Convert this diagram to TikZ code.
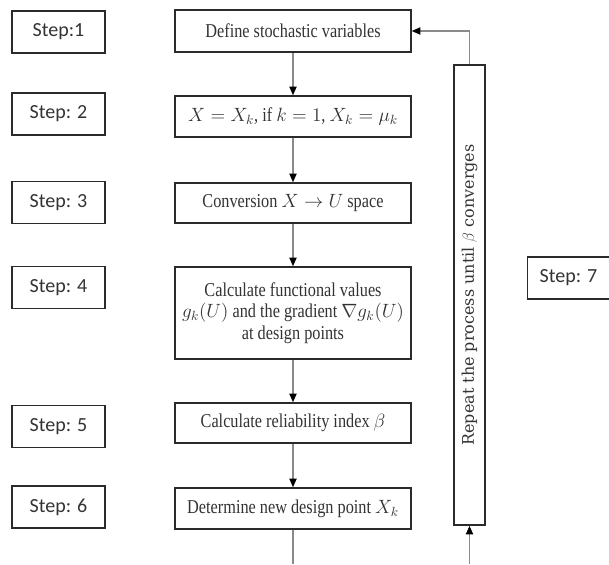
\documentclass[tikz,border=0pt]{standalone}
\usepackage{fontspec}
\setmainfont{Liberation Serif}
\newfontfamily\boxfont{Liberation Serif}[FakeStretch=0.83]
\newfontfamily\stepfont{Carlito}
\newfontfamily\repfont{DejaVu Serif}
\usetikzlibrary{arrows.meta}
\definecolor{txt}{HTML}{333333}
\definecolor{edge}{HTML}{2B2B2B}
\definecolor{conn}{HTML}{8A8A8A}
\tikzset{
  mainbox/.style={draw=edge, line width=1.2pt, minimum width=177pt, inner sep=0pt,
    align=center, text=txt, font=\boxfont\fontsize{14.7}{16.3}\selectfont},
  stepbox/.style={draw=edge, line width=0.8pt, minimum width=69.75pt, minimum height=31.5pt,
    inner sep=0pt, text=txt, font=\stepfont\fontsize{15}{18}\selectfont},
  repbox/.style={draw=edge, line width=1.2pt, minimum width=345pt, minimum height=23.25pt,
    inner sep=0pt, rotate=90, text=txt, font=\repfont\fontsize{12}{14}\selectfont},
  conn/.style={draw=conn, line width=0.9pt},
  arr/.style={conn, -{Triangle[length=6.5pt, width=5.5pt, color=black]}}
}
\begin{document}
\begin{tikzpicture}[x=0.75pt, y=-0.75pt]
\useasboundingbox (0,0) rectangle (609,564);
% main flow
\node[mainbox, minimum height=31.5pt] (b1) at (293,31) {Define stochastic variables};
\node[mainbox, minimum height=30.75pt] (b2) at (293,116.5) {$X = X_k$, if $k = 1$, $X_k = \mu_k$};
\node[mainbox, minimum height=30pt] (b3) at (293,203) {Conversion $X \rightarrow U$ space};
\node[mainbox, minimum height=69pt] (b4) at (293,313) {Calculate functional values\\$g_k(U)$ and the gradient $\nabla g_k(U)$\\at design points};
\node[mainbox, minimum height=30pt] (b5) at (293,423) {Calculate reliability index $\beta$};
\node[mainbox, minimum height=30.75pt] (b6) at (293,508.5) {Determine new design point $X_k$};
% step labels
\node[stepbox] (s1) at (58.5,32) {Step:1};
\node[stepbox] (s2) at (58.5,114) {Step: 2};
\node[stepbox] (s3) at (58.5,202.5) {Step: 3};
\node[stepbox] (s4) at (58.5,287.5) {Step: 4};
\node[stepbox] (s5) at (58.5,426.5) {Step: 5};
\node[stepbox] (s6) at (58.5,507) {Step: 6};
\node[stepbox, minimum width=62pt] (s7) at (568.5,278) {Step: 7};
% repeat box
\node[repbox] (rep) at (469.5,295) {Repeat the process until $\beta$ converges};
\coordinate (endmain) at (293,564);
\coordinate (startrep) at (469.5,564);
% connectors
\draw[arr] (b1) -- (b2);
\draw[arr] (b2) -- (b3);
\draw[arr] (b3) -- (b4);
\draw[arr] (b4) -- (b5);
\draw[arr] (b5) -- (b6);
\draw[conn] (b6) -- (endmain);
\draw[arr] (startrep) -- (rep.west);
\draw[arr] (rep.east) |- (b1.east);
\end{tikzpicture}
\end{document}
